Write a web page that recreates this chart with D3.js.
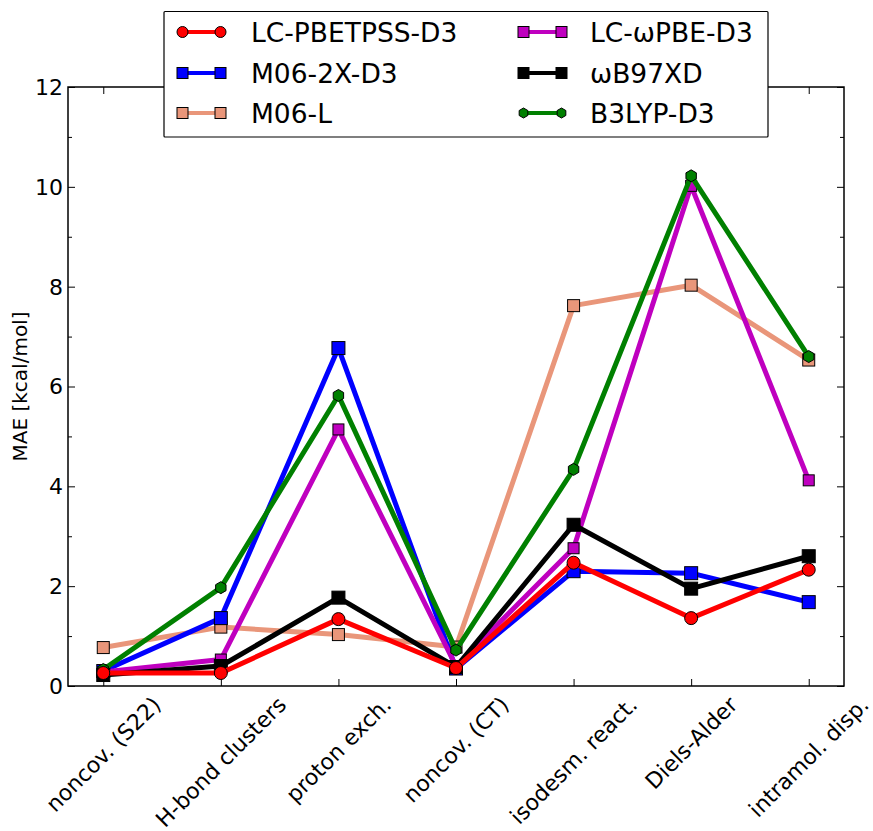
<!DOCTYPE html>
<html>
<head>
<meta charset="utf-8">
<script src="https://cdn.jsdelivr.net/npm/d3@7"></script>
<style>
  html, body { margin: 0; padding: 0; background: #fff; }
  svg { display: block; font-family: "DejaVu Sans", sans-serif; }
</style>
</head>
<body>
<svg id="chart" width="873" height="831"></svg>
<script>
const categories = ["noncov. (S22)", "H-bond clusters", "proton exch.", "noncov. (CT)", "isodesm. react.", "Diels-Alder", "intramol. disp."];

const lcPbetpss = [0.26, 0.26, 1.34, 0.36, 2.47, 1.36, 2.33];
const m062x     = [0.30, 1.36, 6.77, 0.35, 2.30, 2.26, 1.68];
const m06l      = [0.77, 1.18, 1.03, 0.78, 7.62, 8.03, 6.53];
const lcWpbe    = [0.28, 0.53, 5.14, 0.40, 2.76, 10.02, 4.12];
const wb97xd    = [0.22, 0.40, 1.77, 0.38, 3.23, 1.95, 2.60];
const b3lyp     = [0.33, 1.97, 5.82, 0.72, 4.34, 10.22, 6.60];

const yTicks = [0, 2, 4, 6, 8, 10, 12];
const yMinorTicks = [1, 3, 5, 7, 9, 11];

const seriesNames = ["LC-PBETPSS-D3", "M06-2X-D3", "M06-L", "LC-\u03c9PBE-D3", "\u03c9B97XD", "B3LYP-D3"];
const seriesValues = [lcPbetpss, m062x, m06l, lcWpbe, wb97xd, b3lyp];
const seriesColors = ["#ff0000", "#0000ff", "#e9967a", "#bf00bf", "#000000", "#008000"];
const seriesMarkers = ["circle", "square", "square", "square", "square", "hexagon"];
const drawOrder = [2, 1, 3, 5, 4, 0];

const svg = d3.select("#chart");
const L = 68, R = 844, T = 87, B = 686;

const x = d3.scaleLinear().domain([-0.3, 6.3]).range([L, R]);
const y = d3.scaleLinear().domain([0, 12]).range([B, T]);

// Axes (ticks inward)
const g = svg.append("g");
function tickLines(sel) { sel.select(".domain").remove(); sel.selectAll(".tick line").attr("stroke", "#000").attr("stroke-width", 1); }

g.append("g").attr("transform", `translate(${L},0)`)
  .call(d3.axisRight(y).tickValues(yTicks).tickSize(7).tickFormat(""))
  .call(tickLines);
g.append("g").attr("transform", `translate(${L},0)`)
  .call(d3.axisRight(y).tickValues(yMinorTicks).tickSize(4).tickFormat(""))
  .call(tickLines);
g.append("g").attr("transform", `translate(${R},0)`)
  .call(d3.axisLeft(y).tickValues(yTicks).tickSize(7).tickFormat(""))
  .call(tickLines);
g.append("g").attr("transform", `translate(${R},0)`)
  .call(d3.axisLeft(y).tickValues(yMinorTicks).tickSize(4).tickFormat(""))
  .call(tickLines);
g.append("g").attr("transform", `translate(0,${B})`)
  .call(d3.axisTop(x).tickValues(d3.range(categories.length)).tickSize(7).tickFormat(""))
  .call(tickLines);
g.append("g").attr("transform", `translate(0,${T})`)
  .call(d3.axisBottom(x).tickValues(d3.range(categories.length)).tickSize(7).tickFormat(""))
  .call(tickLines);

// y tick labels
svg.append("g").selectAll("text").data(yTicks).join("text")
  .attr("x", L - 5).attr("y", d => y(d)).attr("dy", "0.36em")
  .attr("text-anchor", "end").attr("font-size", 22).text(d => d);

// y label
svg.append("text").attr("transform", `translate(27,${(T + B) / 2}) rotate(-90)`)
  .attr("text-anchor", "middle").attr("font-size", 20).text("MAE [kcal/mol]");

// x tick labels rotated 45, centered
const fs = 22;
const xl = svg.append("g").selectAll("text").data(categories).join("text")
  .attr("font-size", fs).attr("text-anchor", "middle").attr("dy", "0.35em")
  .text(d => d);
xl.each(function(d, i) {
  const len = this.getComputedTextLength();
  const h = fs * 1.0;
  const half = (len * Math.SQRT1_2 + h * Math.SQRT1_2) / 2;
  const cx = x(i), cy = B + 7 + half;
  d3.select(this).attr("transform", `translate(${cx},${cy}) rotate(-45)`);
});

// Lines and markers
const line = d3.line().x((d, i) => x(i)).y(d => y(d));
function hexPath(r) {
  const pts = d3.range(6).map(k => {
    const a = -Math.PI / 2 + k * Math.PI / 3;
    return [r * Math.cos(a), r * Math.sin(a)];
  });
  return "M" + pts.map(p => p.join(",")).join("L") + "Z";
}
function drawMarker(sel, type, color, size) {
  if (type === "circle") {
    sel.append("circle").attr("r", size / 2).attr("fill", color).attr("stroke", "#000").attr("stroke-width", 1);
  } else if (type === "square") {
    sel.append("rect").attr("x", -size / 2).attr("y", -size / 2).attr("width", size).attr("height", size)
      .attr("fill", color).attr("stroke", "#000").attr("stroke-width", 1);
  } else {
    sel.append("path").attr("d", hexPath(size / 2)).attr("fill", color).attr("stroke", "#000").attr("stroke-width", 1);
  }
}
const markerSizes = [13, 13, 12, 11, 13, 12];

drawOrder.forEach(si => {
  const gs = svg.append("g");
  gs.append("path").datum(seriesValues[si]).attr("d", line)
    .attr("fill", "none").attr("stroke", seriesColors[si]).attr("stroke-width", 5)
    .attr("stroke-linejoin", "round");
  seriesValues[si].forEach((v, i) => {
    const m = gs.append("g").attr("transform", `translate(${x(i)},${y(v)})`);
    drawMarker(m, seriesMarkers[si], seriesColors[si], markerSizes[si]);
  });
});

// Frame
svg.append("rect").attr("x", L).attr("y", T).attr("width", R - L).attr("height", B - T)
  .attr("fill", "none").attr("stroke", "#000").attr("stroke-width", 1.5);

// Legend
const lg = svg.append("g");
lg.append("rect").attr("x", 164).attr("y", 11.5).attr("width", 604).attr("height", 125.5)
  .attr("fill", "#fff").attr("stroke", "#000").attr("stroke-width", 1.2).attr("rx", 1);
const colX = [182.5, 523.5];
const rowY = [32, 73, 113];
seriesNames.forEach((name, i) => {
  const col = Math.floor(i / 3), row = i % 3;
  const x0 = colX[col], yy = rowY[row];
  const item = lg.append("g");
  item.append("line").attr("x1", x0).attr("x2", x0 + 38).attr("y1", yy).attr("y2", yy)
    .attr("stroke", seriesColors[i]).attr("stroke-width", 4);
  [x0, x0 + 38].forEach(px => {
    const m = item.append("g").attr("transform", `translate(${px},${yy})`);
    drawMarker(m, seriesMarkers[i], seriesColors[i], seriesMarkers[i] === "hexagon" ? 10 : 11);
  });
  item.append("text").attr("x", col === 0 ? 251 : 590).attr("y", yy).attr("dy", "0.36em")
    .attr("font-size", 26.5).text(name);
});
</script>
</body>
</html>
